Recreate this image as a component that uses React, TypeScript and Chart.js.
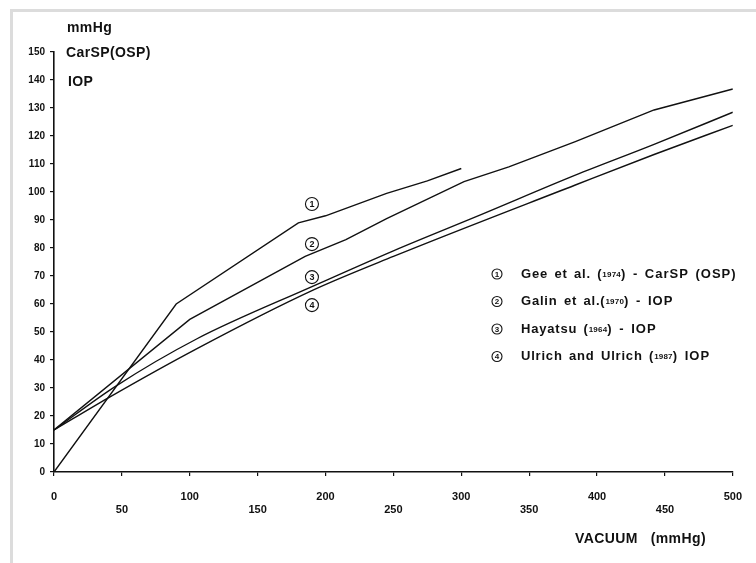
import React, { useEffect, useRef } from 'react';
import { Chart, registerables } from 'chart.js';

Chart.register(...registerables);

// ---------- data ----------
const xTicks = [0, 50, 100, 150, 200, 250, 300, 350, 400, 450, 500];
const yTicks = [0, 10, 20, 30, 40, 50, 60, 70, 80, 90, 100, 110, 120, 130, 140, 150];

const geeX = [0, 90, 180, 200, 245, 275, 300];
const geeY = [0, 60, 89, 91.5, 99.5, 104, 108.4];

const galinX = [0, 100, 185, 215, 245, 302, 335, 384, 442, 500];
const galinY = [15, 54.5, 77, 83, 90.5, 103.7, 109, 118, 129.3, 136.8];

const hayatsuX = [0, 45, 105, 190, 250, 315, 384, 442, 500];
const hayatsuY = [15, 30.5, 47.5, 66.2, 79, 92, 106, 117, 128.5];

const ulrichX = [0, 40, 105, 190, 250, 384, 442, 500];
const ulrichY = [15, 26.5, 44, 64.8, 77, 102.5, 113.4, 123.8];

const seriesNumbers = ['1', '2', '3', '4'];
const legendNames = ['Gee et al. (', 'Galin et al.(', 'Hayatsu (', 'Ulrich and Ulrich ('];
const legendYears = ['1974', '1970', '1964', '1987'];
const legendSuffix = [') - CarSP (OSP)', ') - IOP', ') - IOP', ') IOP'];

// on-curve marker positions (data units)
const markerX = [190, 190, 190, 190];
const markerY = [95.7, 81.4, 69.6, 59.6];

const yTitleLines = ['mmHg', 'CarSP(OSP)', 'IOP'];
const xTitle = 'VACUUM   (mmHg)';

const FONT = '"Liberation Sans", Arial, Helvetica, sans-serif';

function pts(xs: number[], ys: number[]) {
  return xs.map((x, i) => ({ x, y: ys[i] }));
}

function circled(ctx: CanvasRenderingContext2D, cx: number, cy: number, r: number, digit: string, size: number) {
  ctx.save();
  (ctx as any).letterSpacing = '0px';
  ctx.beginPath();
  ctx.arc(cx, cy, r, 0, Math.PI * 2);
  ctx.lineWidth = 1.1;
  ctx.strokeStyle = '#111';
  ctx.stroke();
  ctx.fillStyle = '#111';
  ctx.font = `bold ${size}px ${FONT}`;
  ctx.textAlign = 'center';
  ctx.textBaseline = 'middle';
  ctx.fillText(digit, cx, cy + 0.5);
  ctx.restore();
}

const decorPlugin = {
  id: 'decor',
  beforeDraw(chart: any) {
    const ctx = chart.ctx as CanvasRenderingContext2D;
    ctx.save();
    ctx.fillStyle = '#ffffff';
    ctx.fillRect(0, 0, chart.width, chart.height);
    ctx.fillStyle = '#dcdcdc';
    ctx.fillRect(10, 9, 3, chart.height - 9);
    ctx.fillRect(10, 9, chart.width - 10, 3);
    ctx.restore();
  },
  afterDraw(chart: any) {
    const ctx = chart.ctx as CanvasRenderingContext2D;
    const xs = chart.scales.x;
    const ys = chart.scales.y;
    ctx.save();
    ctx.fillStyle = '#111';
    ctx.textBaseline = 'middle';
    ctx.textAlign = 'left';
    (ctx as any).letterSpacing = '0.4px';
    ctx.font = `bold 14px ${FONT}`;
    const titleY = [28, 53, 82];
    const titleX = [67, 66, 68];
    yTitleLines.forEach((t, i) => ctx.fillText(t, titleX[i], titleY[i]));
    ctx.fillText(xTitle, 575, 539);

    // on-curve markers
    seriesNumbers.forEach((n, i) => {
      circled(ctx, xs.getPixelForValue(markerX[i]), ys.getPixelForValue(markerY[i]), 6.5, n, 9);
    });

    // legend
    const rowY = [274, 301.5, 329, 356.5];
    seriesNumbers.forEach((n, i) => {
      circled(ctx, 497, rowY[i], 5, n, 8);
      let cx = 521;
      ctx.fillStyle = '#111';
      ctx.textAlign = 'left';
      ctx.textBaseline = 'middle';
      (ctx as any).letterSpacing = '0.8px';
      (ctx as any).wordSpacing = '2px';
      ctx.font = `bold 13px ${FONT}`;
      ctx.fillText(legendNames[i], cx, rowY[i]);
      cx += ctx.measureText(legendNames[i]).width;
      (ctx as any).letterSpacing = '0.2px';
      ctx.font = `bold 8px ${FONT}`;
      ctx.fillText(legendYears[i], cx, rowY[i] + 0.5);
      cx += ctx.measureText(legendYears[i]).width;
      (ctx as any).letterSpacing = '1px';
      ctx.font = `bold 13px ${FONT}`;
      ctx.fillText(legendSuffix[i], cx, rowY[i]);
    });
    (ctx as any).letterSpacing = '0px';
    (ctx as any).wordSpacing = '0px';
    ctx.restore();
  },
};

export default function App() {
  const ref = useRef<HTMLCanvasElement | null>(null);
  useEffect(() => {
    if (!ref.current) return;
    const lineStyle = {
      borderColor: '#111',
      borderWidth: 1.4,
      pointRadius: 0,
      fill: false,
    };
    const chart = new Chart(ref.current, {
      type: 'line',
      data: {
        datasets: [
          { ...lineStyle, label: 'Gee et al. (1974) - CarSP (OSP)', data: pts(geeX, geeY), tension: 0 },
          { ...lineStyle, label: 'Galin et al. (1970) - IOP', data: pts(galinX, galinY), tension: 0 },
          { ...lineStyle, label: 'Hayatsu (1964) - IOP', data: pts(hayatsuX, hayatsuY), cubicInterpolationMode: 'monotone' },
          { ...lineStyle, label: 'Ulrich and Ulrich (1987) IOP', data: pts(ulrichX, ulrichY), cubicInterpolationMode: 'monotone' },
        ] as any,
      },
      options: {
        animation: false,
        responsive: false,
        layout: { padding: { left: 0, top: 52, right: 17, bottom: 0 } },
        plugins: { legend: { display: false }, tooltip: { enabled: false }, title: { display: false } },
        scales: {
          x: {
            type: 'linear',
            min: 0,
            max: 500,
            afterBuildTicks: (s: any) => {
              s.ticks = xTicks.map((v) => ({ value: v }));
            },
            afterFit: (s: any) => {
              s.height = 91;
            },
            ticks: {
              autoSkip: false,
              maxRotation: 0,
              minRotation: 0,
              padding: 14,
              color: '#111',
              font: { family: FONT, size: 11, weight: 'bold' },
              callback: (v: any) => (Number(v) % 100 === 0 ? String(v) : ['', String(v)]),
            },
            grid: { drawOnChartArea: false, drawTicks: true, tickLength: 4, color: '#111', lineWidth: 1.2 },
            border: { display: true, color: '#111', width: 1.6 },
          },
          y: {
            type: 'linear',
            min: 0,
            max: 150,
            afterBuildTicks: (s: any) => {
              s.ticks = yTicks.map((v) => ({ value: v }));
            },
            afterFit: (s: any) => {
              s.width = 54;
            },
            ticks: {
              autoSkip: false,
              padding: 5,
              color: '#111',
              font: { family: FONT, size: 10, weight: 'bold' },
            },
            grid: { drawOnChartArea: false, drawTicks: true, tickLength: 4, color: '#111', lineWidth: 1.2 },
            border: { display: true, color: '#111', width: 1.6 },
          },
        },
      } as any,
      plugins: [decorPlugin],
    });
    return () => chart.destroy();
  }, []);
  return (
    <div style={{ position: 'fixed', left: 0, top: 0, width: 756, height: 563, background: '#fff' }}>
      <canvas ref={ref} width={756} height={563} style={{ width: 756, height: 563, display: 'block' }} />
    </div>
  );
}
